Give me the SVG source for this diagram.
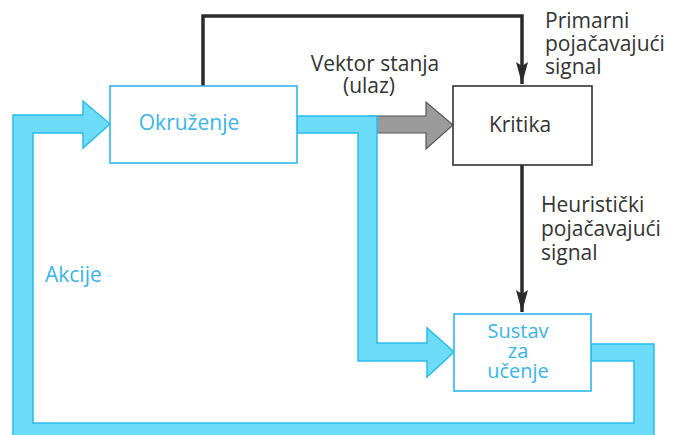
<svg xmlns="http://www.w3.org/2000/svg" width="675" height="435" viewBox="0 0 675 435">
<defs>
<style>
.band{fill:#6DDCF8;stroke:#2BBBEB;stroke-width:1.5;stroke-linejoin:miter}
.gray{fill:#9B9B9B;stroke:#555;stroke-width:1.2}
.bbox{fill:#fff;stroke:#2BB8EC;stroke-width:1.6}
.kbox{fill:#fff;stroke:#333;stroke-width:1.6}
.wire{fill:none;stroke:#2B2B2B;stroke-width:3.5}
text{font-family:"Open Sans","Noto Sans","DejaVu Sans",sans-serif;font-size:21px}
.sm{font-size:20px}
.bt{fill:#3BB3E6}
.dt{fill:#333}
</style>
<marker id="ah" markerWidth="22" markerHeight="12" refX="22" refY="6" orient="auto" markerUnits="userSpaceOnUse" viewBox="0 0 22 12">
<path d="M0,0 L22,6 L0,12 L4,6 Z" fill="#2B2B2B"/>
</marker>
</defs>
<g id="connectors">
<polygon id="action-loop" class="band" points="591,344 654,344 654,441 13,441 13,115 83,115 83,101 110,124 83,148 83,133 33,133 33,423 634,423 634,361 591,361"/>
<polygon id="state-gray" class="gray" points="370,116 426,116 426,102 453,125 426,149 426,133 370,133"/>
<polygon id="state-blue" class="band" points="297,116 377,116 377,343 427,343 427,328 454,352 427,377 427,361 358,361 358,133 297,133"/>
<path id="primary" class="wire" d="M203,86 V16 H522 V84" marker-end="url(#ah)"/>
<path id="heuristic" class="wire" d="M522,165 V312" marker-end="url(#ah)"/>
</g>
<g id="okruzenje">
<rect class="bbox" x="110" y="86" width="187" height="77"/>
<text class="bt" x="189" y="130" text-anchor="middle">Okruženje</text>
</g>
<g id="kritika">
<rect class="kbox" x="453" y="86" width="139" height="79"/>
<text class="dt" x="520" y="132" text-anchor="middle">Kritika</text>
</g>
<g id="sustav">
<rect class="bbox" x="454" y="314" width="137" height="77"/>
<text class="bt sm" x="518" y="338" text-anchor="middle">Sustav</text>
<text class="bt sm" x="518" y="358" text-anchor="middle">za</text>
<text class="bt sm" x="518" y="378" text-anchor="middle">učenje</text>
</g>
<g id="labels">
<text class="dt" x="375" y="71" text-anchor="middle">Vektor stanja</text>
<text class="dt" x="369" y="93" text-anchor="middle">(ulaz)</text>
<text class="dt" x="545" y="28">Primarni</text>
<text class="dt" x="545" y="51">pojačavajući</text>
<text class="dt" x="545" y="74">signal</text>
<text class="dt" x="541" y="212">Heuristički</text>
<text class="dt" x="541" y="236">pojačavajući</text>
<text class="dt" x="541" y="260">signal</text>
<text class="bt" x="45" y="282">Akcije</text>
</g>
</svg>
